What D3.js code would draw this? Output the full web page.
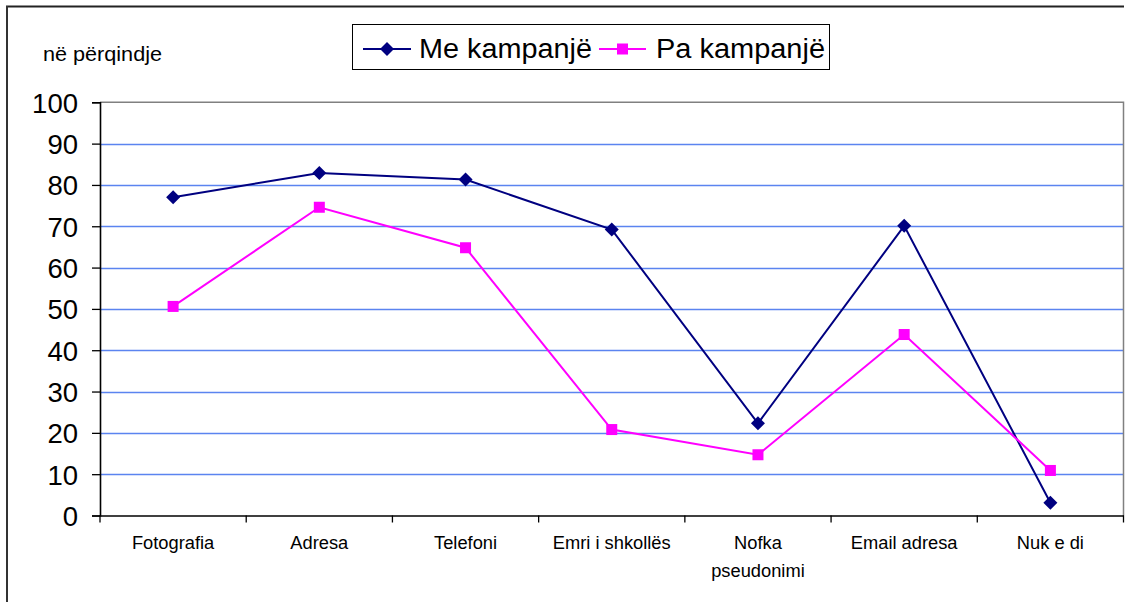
<!DOCTYPE html>
<html>
<head>
<meta charset="utf-8">
<script src="https://cdn.jsdelivr.net/npm/d3@7"></script>
<style>
  html, body { margin: 0; padding: 0; background: #fff; }
  svg { display: block; font-family: "Liberation Sans", Arial, sans-serif; }
</style>
</head>
<body>
<svg id="chart" width="1128" height="602"></svg>
<script>
const categories = [["Fotografia"], ["Adresa"], ["Telefoni"], ["Emri i shkollës"], ["Nofka", "pseudonimi"], ["Email adresa"], ["Nuk e di"]];
const seriesNames = ["Me kampanjë", "Pa kampanjë"];
const meKampanje = [77.0, 82.9, 81.3, 69.2, 22.3, 70.1, 3.1];
const paKampanje = [50.6, 74.6, 64.8, 20.8, 14.7, 43.8, 10.9];
const yTicks = [0, 10, 20, 30, 40, 50, 60, 70, 80, 90, 100];
const yTitle = "në përqindje";

const svg = d3.select("#chart");
const L = 100, R = 1123.5, T = 102.3, B = 515.5;

const x = d3.scaleBand().domain(categories.map((c, i) => i)).range([L, R]).padding(0);
const y = d3.scaleLinear().domain([0, 100]).range([B, T]);

// outer chart frame (top and left visible)
svg.append("line").attr("x1", 6).attr("x2", 1124).attr("y1", 6.5).attr("y2", 6.5)
  .attr("stroke", "#222").attr("stroke-width", 2);
svg.append("line").attr("x1", 7).attr("x2", 7).attr("y1", 6).attr("y2", 602)
  .attr("stroke", "#333").attr("stroke-width", 2);

// gridlines
svg.append("g").selectAll("line").data(yTicks.filter(t => t > 0 && t < 100)).join("line")
  .attr("x1", L).attr("x2", R)
  .attr("y1", d => Math.round(y(d)) + 0.5).attr("y2", d => Math.round(y(d)) + 0.5)
  .attr("stroke", "#5b84f0").attr("stroke-width", 1.3);

// plot area border (top, right)
svg.append("path")
  .attr("d", `M${L},${T}H${R}V${B}`)
  .attr("fill", "none").attr("stroke", "#808080").attr("stroke-width", 1.5);

// y axis
const yAxis = svg.append("g").attr("transform", `translate(${L},0)`)
  .call(d3.axisLeft(y).tickValues(yTicks).tickSize(8).tickPadding(14).tickFormat(d3.format("d")));
yAxis.select(".domain").attr("stroke", "#000").attr("stroke-width", 1.6);
yAxis.selectAll(".tick line").attr("stroke", "#000").attr("stroke-width", 1.3);
yAxis.selectAll(".tick text").attr("font-size", 27.5).attr("fill", "#000")
  .attr("font-family", "Liberation Sans, Arial, sans-serif").attr("dy", "0.36em");

// x axis
const xAxis = svg.append("g").attr("transform", `translate(0,${B})`)
  .call(d3.axisBottom(x).tickSize(0).tickFormat(""));
xAxis.select(".domain").attr("stroke", "#000").attr("stroke-width", 1.6);
// category boundary ticks
const bounds = categories.map((c, i) => x(i)).concat([R]);
xAxis.append("g").selectAll("line").data(bounds).join("line")
  .attr("x1", d => d).attr("x2", d => d).attr("y1", 0).attr("y2", 7)
  .attr("stroke", "#000").attr("stroke-width", 1.3);
// category labels
const labels = svg.append("g").attr("font-size", 18.3).attr("fill", "#000").attr("text-anchor", "middle");
categories.forEach((lines, i) => {
  lines.forEach((t, j) => {
    labels.append("text").attr("x", x(i) + x.bandwidth() / 2).attr("y", 548.5 + j * 28).text(t);
  });
});

// y title
svg.append("text").attr("x", 43).attr("y", 61).attr("font-size", 20)
  .attr("textLength", 119).attr("lengthAdjust", "spacingAndGlyphs").text(yTitle);

// series
const series = [
  { name: seriesNames[0], values: meKampanje, color: "#000080", shape: "diamond" },
  { name: seriesNames[1], values: paKampanje, color: "#ff00ff", shape: "square" }
];
const cx = i => x(i) + x.bandwidth() / 2;
const line = d3.line().x((d, i) => cx(i)).y(d => y(d));
const marker = (g, s, px, py) => {
  if (s.shape === "diamond") {
    g.append("path").attr("d", `M${px},${py - 7}L${px + 7},${py}L${px},${py + 7}L${px - 7},${py}Z`)
      .attr("fill", s.color);
  } else {
    g.append("rect").attr("x", px - 5.5).attr("y", py - 5.5).attr("width", 11).attr("height", 11)
      .attr("fill", s.color);
  }
};
series.forEach(s => {
  svg.append("path").datum(s.values).attr("d", line)
    .attr("fill", "none").attr("stroke", s.color).attr("stroke-width", 2);
  const g = svg.append("g");
  s.values.forEach((v, i) => marker(g, s, cx(i), y(v)));
});

// legend
const leg = svg.append("g");
leg.append("rect").attr("x", 352.5).attr("y", 24.5).attr("width", 477).attr("height", 45)
  .attr("fill", "#fff").attr("stroke", "#000").attr("stroke-width", 1);
const legItems = [
  { s: series[0], x1: 363, x2: 411, tx: 419, tw: 173 },
  { s: series[1], x1: 599, x2: 646, tx: 656, tw: 169 }
];
legItems.forEach(it => {
  leg.append("line").attr("x1", it.x1).attr("x2", it.x2).attr("y1", 49).attr("y2", 49)
    .attr("stroke", it.s.color).attr("stroke-width", 2);
  marker(leg, it.s, (it.x1 + it.x2) / 2, 49);
  leg.append("text").attr("x", it.tx).attr("y", 57.5).attr("font-size", 27)
    .attr("textLength", it.tw).attr("lengthAdjust", "spacingAndGlyphs").text(it.s.name);
});
</script>
</body>
</html>
